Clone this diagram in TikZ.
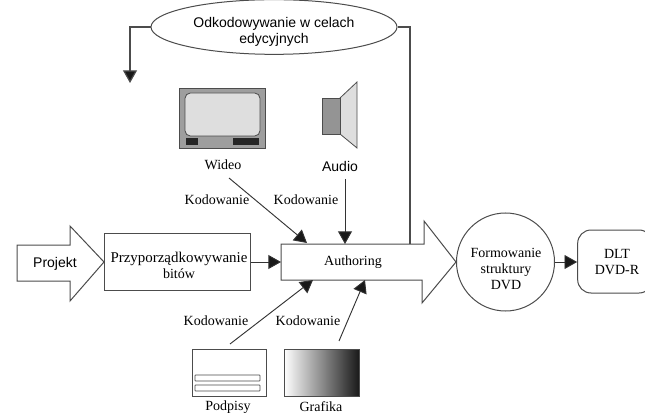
\documentclass[tikz,border=0pt]{standalone}
\usepackage{fontspec}
\setmainfont{Liberation Serif}
\newfontfamily\sansf{Liberation Sans}
\usetikzlibrary{arrows.meta,shapes.geometric}
\definecolor{linegray}{gray}{0.3}
\definecolor{tvgray}{gray}{0.62}
\definecolor{screengray}{gray}{0.87}
\tikzset{
  x=0.75pt,y=-0.75pt,
  shapeline/.style={draw=linegray,line width=0.75pt},
  conn/.style={draw=black!80,line width=0.7pt,-{Triangle[length=9.5pt,width=10.5pt,fill=black!90]}},
  feed/.style={draw=linegray,line width=0.9pt},
  lbl/.style={font=\fontsize{10.5}{12.1}\selectfont,inner sep=0pt,align=center},
  slbl/.style={font=\sansf\fontsize{10.5}{12.1}\selectfont,inner sep=0pt,align=center}
}
\begin{document}
\begin{tikzpicture}
\useasboundingbox (0,0) rectangle (645,413);
% big arrows
\draw[shapeline,fill=white] (17,245) -- (70,245) -- (70,226) -- (104,262) -- (70,301) -- (70,281) -- (17,281) -- cycle;
\node[slbl] (projekt) at (55,264) {Projekt};
\draw[shapeline,fill=white] (281,244) -- (424,244) -- (424,221) -- (456,262) -- (422,303) -- (422,280) -- (281,280) -- cycle;
\node[lbl] (authoring) at (353,262) {Authoring};
\coordinate (authL) at (281,262);
\coordinate (authTopA) at (307,243);
\coordinate (authTopB) at (345,244);
\coordinate (authTopC) at (410,244);
\coordinate (authBotA) at (313,280);
\coordinate (authBotB) at (365,280);
% boxes
\node[shapeline,fill=white,minimum width=109.5pt,minimum height=42.75pt] (bity) at (177,261.5) {};
\node[lbl] (bityt) at (179,265) {\fontsize{11.2}{12.1}\selectfont Przyporządkowywanie\\bitów};
\node[shapeline,circle,fill=white,minimum size=73.5pt] (form) at (505.5,262) {};
\node[lbl] (formt) at (506,269) {Formowanie\\struktury\\DVD};
\node[shapeline,rounded corners=10pt,fill=white,minimum width=56pt,minimum height=47.25pt] (dlt) at (615,261.5) {};
\node[lbl] (dltt) at (617,262) {DLT\\DVD-R};
\draw[conn] (bity.east |- authL) -- (authL);
\draw[conn] (form.east) -- (dlt.west |- form.east);
% ellipse with feedback
\node[shapeline,ellipse,fill=white,minimum width=184.5pt,minimum height=41pt] (dek) at (274,27) {};
\node[slbl] (dekt) at (274,31.5) {Odkodowywanie w celach\\edycyjnych};
\coordinate (fbEnd) at (130,83);
\draw[feed] (authTopC) |- (dek.east);
\draw[conn,draw=linegray,line width=0.9pt] (dek.west) -| (fbEnd);
% TV
\node[draw=linegray,fill=tvgray,line width=0.6pt,minimum width=65pt,minimum height=45pt,inner sep=0pt] (tv) at (222.5,118) {};
\draw[draw=linegray,fill=screengray,line width=0.6pt,rounded corners=4pt] (185,93) rectangle (260,136);
\fill[black!85] (186,138) rectangle (198,145);
\fill[black!85] (233,138) rectangle (259,145);
\node[lbl] (wideo) at (223,165) {Wideo};
% speaker
\draw[draw=linegray,fill=screengray,line width=0.6pt] (340,98) -- (357,82) -- (357,148) -- (340,134) -- cycle;
\node[draw=linegray,fill=tvgray!110,line width=0.6pt,minimum width=13.5pt,minimum height=27pt,inner sep=0pt] (spk) at (331,116) {};
\node[slbl] (audio) at (340,166) {Audio};
% input connectors
\coordinate (wideoOut) at (229,178);
\coordinate (audioOut) at (345,179);
\draw[conn] (wideoOut) -- (authTopA);
\draw[conn] (audioOut) -- (authTopB);
\node[lbl] (k1) at (217,200) {Kodowanie};
\node[lbl] (k2) at (306,200) {Kodowanie};
\node[lbl] (k3) at (216,321) {Kodowanie};
\node[lbl] (k4) at (308,321) {Kodowanie};
% Podpisy
\node[draw=linegray,fill=white,line width=0.7pt,minimum width=55.5pt,minimum height=35.25pt,inner sep=0pt] (pod) at (229,372.5) {};
\draw[draw=linegray,line width=0.6pt,rounded corners=0.5pt] (195,375) rectangle (260,381);
\draw[draw=linegray,line width=0.6pt,rounded corners=0.5pt] (195,385) rectangle (260,391);
\node[lbl] (podt) at (228,407) {Podpisy};
% Grafika
\node[draw=linegray,line width=0.6pt,left color=white,right color=black!90,minimum width=56.25pt,minimum height=35.25pt,inner sep=0pt] (gra) at (321.5,372.5) {};
\node[lbl] (grat) at (321,407) {Grafika};
\coordinate (podOut) at (230,344);
\coordinate (graOut) at (339,341);
\draw[conn] (podOut) -- (authBotA);
\draw[conn] (graOut) -- (authBotB);
\end{tikzpicture}
\end{document}
